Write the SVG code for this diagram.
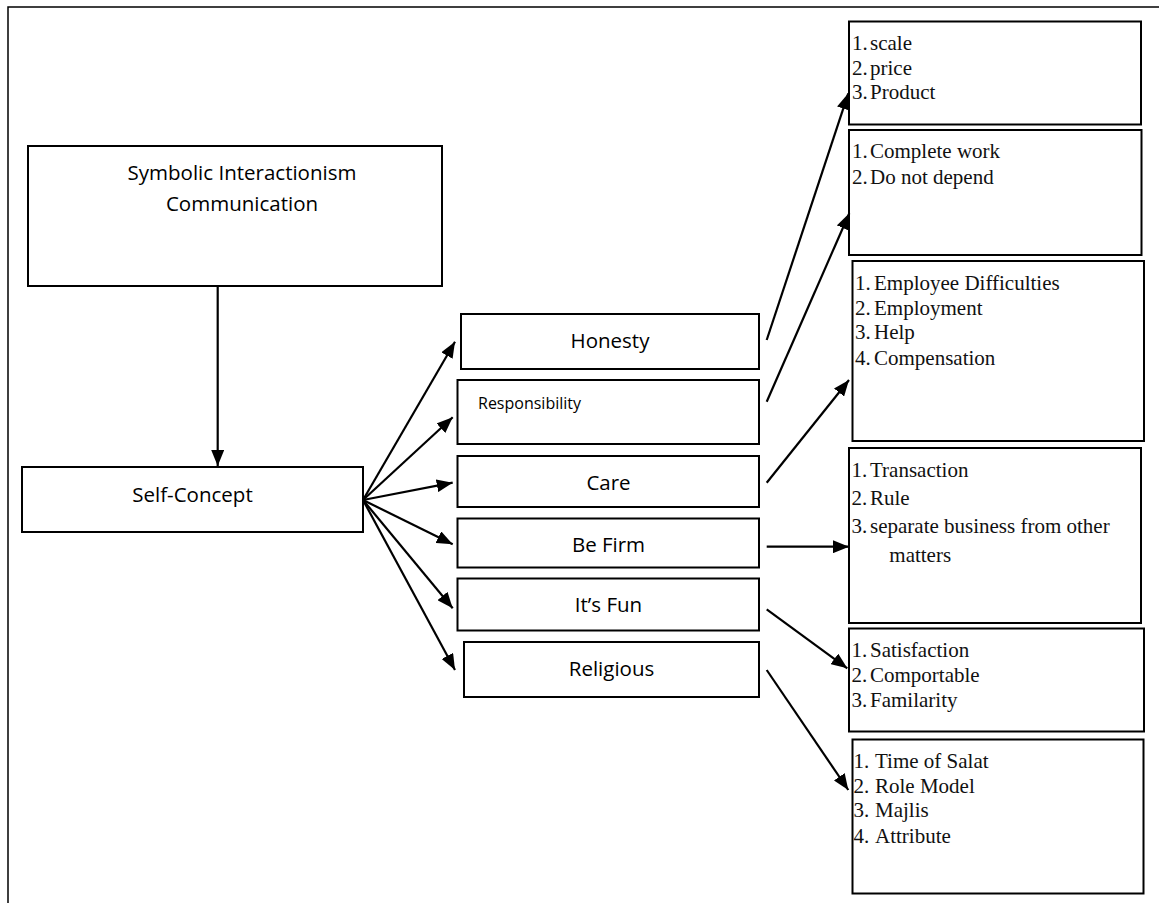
<svg xmlns="http://www.w3.org/2000/svg" width="1159" height="903" viewBox="0 0 1159 903">
<style>
.box{fill:#fff;stroke:#000;stroke-width:2}
.sans{font-family:"Open Sans","Noto Sans",sans-serif;font-size:20.5px;fill:#000}
.serif{font-family:"Liberation Serif","Times New Roman",serif;font-size:21px;fill:#111}
.conn{stroke:#000;stroke-width:2.2;fill:none;marker-end:url(#ah)}
</style>
<defs>
<marker id="ah" markerUnits="userSpaceOnUse" markerWidth="16" markerHeight="13" viewBox="0 0 16 13" refX="16" refY="6.5" orient="auto">
<path d="M0,0 L16,6.5 L0,13 z" fill="#000"/>
</marker>
</defs>
<rect width="1159" height="903" fill="#fff"/>
<path d="M8,903 V7 H1159" fill="none" stroke="#000" stroke-width="1.5"/>

<g id="symbolic">
<rect class="box" x="28" y="146" width="414" height="140"/>
<text class="sans" x="242" y="180" text-anchor="middle">Symbolic Interactionism</text>
<text class="sans" x="242" y="210.5" text-anchor="middle">Communication</text>
</g>
<g id="self-concept">
<rect class="box" x="22" y="467" width="341" height="65"/>
<text class="sans" x="192.5" y="501.5" text-anchor="middle">Self-Concept</text>
</g>

<g id="honesty">
<rect class="box" x="461" y="314" width="298" height="55"/>
<text class="sans" x="610" y="348" text-anchor="middle">Honesty</text>
</g>
<g id="responsibility">
<rect class="box" x="457.5" y="380" width="301.5" height="64"/>
<text class="sans" x="478" y="409" style="font-size:16px">Responsibility</text>
</g>
<g id="care">
<rect class="box" x="457.5" y="456" width="301.5" height="51"/>
<text class="sans" x="608.5" y="490" text-anchor="middle">Care</text>
</g>
<g id="be-firm">
<rect class="box" x="457.5" y="518.5" width="301.5" height="49"/>
<text class="sans" x="608.5" y="551.5" text-anchor="middle">Be Firm</text>
</g>
<g id="its-fun">
<rect class="box" x="457.5" y="578.5" width="301.5" height="52"/>
<text class="sans" x="608.5" y="611.5" text-anchor="middle">It’s Fun</text>
</g>
<g id="religious">
<rect class="box" x="464" y="642" width="295" height="55"/>
<text class="sans" x="611.5" y="676" text-anchor="middle">Religious</text>
</g>

<g id="list-honesty">
<rect class="box" x="849" y="21.5" width="292" height="103"/>
<text class="serif"><tspan x="852" y="50">1.</tspan><tspan x="870" y="50">scale</tspan><tspan x="852" y="74.5">2.</tspan><tspan x="870" y="74.5">price</tspan><tspan x="852" y="99">3.</tspan><tspan x="870" y="99">Product</tspan></text>
</g>
<g id="list-responsibility">
<rect class="box" x="849" y="130" width="292.5" height="125"/>
<text class="serif"><tspan x="852" y="158.3">1.</tspan><tspan x="870" y="158.3">Complete work</tspan><tspan x="852" y="184.3">2.</tspan><tspan x="870" y="184.3">Do not depend</tspan></text>
</g>
<g id="list-care">
<rect class="box" x="852.5" y="261" width="291.5" height="180"/>
<text class="serif"><tspan x="855" y="290">1.</tspan><tspan x="874" y="290">Employee Difficulties</tspan><tspan x="855" y="315">2.</tspan><tspan x="874" y="315">Employment</tspan><tspan x="855" y="338.5">3.</tspan><tspan x="874" y="338.5">Help</tspan><tspan x="855" y="365">4.</tspan><tspan x="874" y="365">Compensation</tspan></text>
</g>
<g id="list-be-firm">
<rect class="box" x="849" y="448" width="292" height="175"/>
<text class="serif"><tspan x="851.5" y="476.7">1.</tspan><tspan x="870" y="476.7">Transaction</tspan><tspan x="851.5" y="505">2.</tspan><tspan x="870" y="505">Rule</tspan><tspan x="851.5" y="533.3">3.</tspan><tspan x="870" y="533.3">separate business from other</tspan><tspan x="889.3" y="561.7">matters</tspan></text>
</g>
<g id="list-its-fun">
<rect class="box" x="849" y="628.5" width="295" height="103"/>
<text class="serif"><tspan x="851.5" y="657.3">1.</tspan><tspan x="870" y="657.3">Satisfaction</tspan><tspan x="851.5" y="682.3">2.</tspan><tspan x="870" y="682.3">Comportable</tspan><tspan x="851.5" y="706.7">3.</tspan><tspan x="870" y="706.7">Familarity</tspan></text>
</g>
<g id="list-religious">
<rect class="box" x="852.5" y="739.5" width="291" height="154"/>
<text class="serif"><tspan x="853.5" y="768.3">1.</tspan><tspan x="875" y="768.3">Time of Salat</tspan><tspan x="853.5" y="792.7">2.</tspan><tspan x="875" y="792.7">Role Model</tspan><tspan x="853.5" y="817.3">3.</tspan><tspan x="875" y="817.3">Majlis</tspan><tspan x="853.5" y="842.7">4.</tspan><tspan x="875" y="842.7">Attribute</tspan></text>
</g>

<g id="connectors">
<line class="conn" x1="217.7" y1="286" x2="217.7" y2="466"/>
<line class="conn" x1="363" y1="500" x2="455" y2="341.7"/>
<line class="conn" x1="363" y1="500" x2="452.7" y2="417.3"/>
<line class="conn" x1="363" y1="500" x2="452.7" y2="482.7"/>
<line class="conn" x1="363" y1="500" x2="452.7" y2="544.3"/>
<line class="conn" x1="363" y1="500" x2="452.7" y2="608.3"/>
<line class="conn" x1="363" y1="500" x2="455" y2="670"/>
<line class="conn" x1="766.7" y1="340" x2="848.3" y2="93.3"/>
<line class="conn" x1="766.7" y1="401.7" x2="849.3" y2="213.3"/>
<line class="conn" x1="766.7" y1="482.7" x2="849" y2="380"/>
<line class="conn" x1="766.7" y1="546.7" x2="849" y2="546.7"/>
<line class="conn" x1="766.7" y1="609.3" x2="847.3" y2="668.3"/>
<line class="conn" x1="766.7" y1="670" x2="848.3" y2="790"/>
</g>
</svg>
